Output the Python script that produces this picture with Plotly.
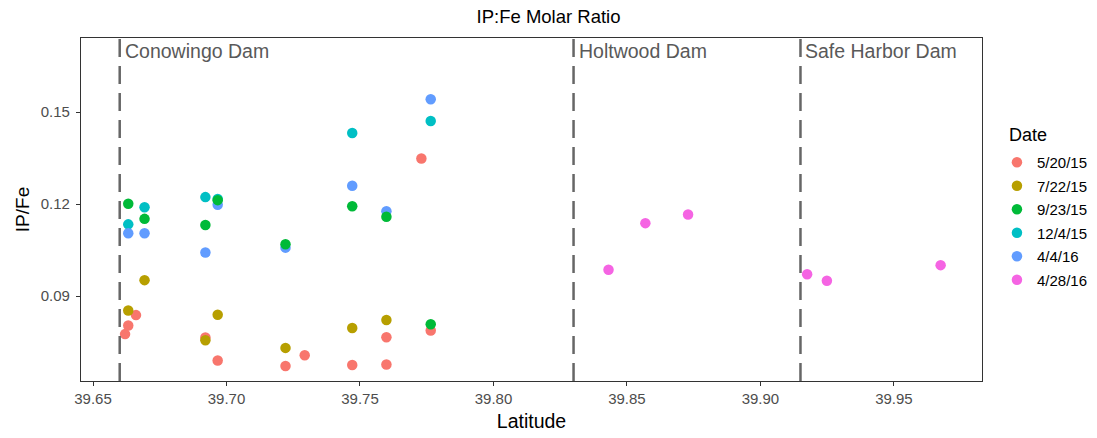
import plotly.graph_objects as go

# Sampling dates (legend order) and their hue colours
dates = ["5/20/15", "7/22/15", "9/23/15", "12/4/15", "4/4/16", "4/28/16"]
colors = ["#F8766D", "#B79F00", "#00BA38", "#00BFC4", "#619CFF", "#F564E3"]

# Latitude / IP:Fe molar ratio for each sampling date
lat_0520 = [39.6620, 39.6632, 39.6661, 39.6921, 39.6967, 39.7221, 39.7293, 39.7471, 39.7599, 39.7599, 39.7730, 39.7765]
ipfe_0520 = [0.0776, 0.0804, 0.0838, 0.0765, 0.0690, 0.0672, 0.0707, 0.0675, 0.0766, 0.0677, 0.1349, 0.0788]

lat_0722 = [39.6632, 39.6693, 39.6921, 39.6967, 39.7221, 39.7471, 39.7599]
ipfe_0722 = [0.0853, 0.0952, 0.0756, 0.0839, 0.0731, 0.0796, 0.0822]

lat_0923 = [39.6632, 39.6693, 39.6921, 39.6967, 39.7221, 39.7471, 39.7599, 39.7765]
ipfe_0923 = [0.1201, 0.1152, 0.1132, 0.1213, 0.1069, 0.1193, 0.1159, 0.0808]

lat_1204 = [39.6632, 39.6693, 39.6921, 39.6967, 39.7471, 39.7765]
ipfe_1204 = [0.1134, 0.1190, 0.1223, 0.1217, 0.1432, 0.1471]

lat_0404 = [39.6632, 39.6693, 39.6921, 39.6967, 39.7221, 39.7471, 39.7599, 39.7765]
ipfe_0404 = [0.1105, 0.1105, 0.1042, 0.1198, 0.1058, 0.1260, 0.1177, 0.1542]

lat_0428 = [39.8431, 39.8569, 39.8729, 39.9175, 39.9249, 39.9675]
ipfe_0428 = [0.0986, 0.1138, 0.1166, 0.0971, 0.0950, 0.1001]

# Dam locations marked with dashed lines
dam_names = ["Conowingo Dam", "Holtwood Dam", "Safe Harbor Dam"]
dam_lat = [39.66, 39.83, 39.915]

x_ticks = [39.65, 39.70, 39.75, 39.80, 39.85, 39.90, 39.95]
y_ticks = [0.09, 0.12, 0.15]

series = [
    (lat_0520, ipfe_0520),
    (lat_0722, ipfe_0722),
    (lat_0923, ipfe_0923),
    (lat_1204, ipfe_1204),
    (lat_0404, ipfe_0404),
    (lat_0428, ipfe_0428),
]
# drawing order (later ones on top); legend order kept via legendrank
draw_order = [0, 1, 3, 4, 2, 5]

FONT = "Liberation Sans, Arial, Helvetica, sans-serif"

fig = go.Figure()
for i in draw_order:
    xs, ys = series[i]
    fig.add_trace(go.Scatter(
        x=xs, y=ys, mode="markers", name=dates[i],
        legendgroup=dates[i], legendrank=i + 1,
        marker=dict(color=colors[i], size=10.5, line=dict(width=0)),
    ))

for name, lat in zip(dam_names, dam_lat):
    fig.add_shape(type="line", xref="x", yref="paper", x0=lat, x1=lat, y0=0, y1=1,
                  line=dict(color="#666666", width=2.5, dash="18px,9px"), layer="above")
    fig.add_annotation(x=lat, y=0.17, xref="x", yref="y", text=name, showarrow=False,
                       xanchor="left", yanchor="middle", xshift=3,
                       font=dict(family=FONT, size=19.5, color="#595959"))

# legend heading
fig.add_annotation(x=1.0277, y=0.716, xref="paper", yref="paper", text="Date",
                   showarrow=False, xanchor="left", yanchor="middle",
                   font=dict(family=FONT, size=18, color="#000000"))

axis_common = dict(
    showline=True, mirror=True, linecolor="#333333", linewidth=1.2,
    ticks="outside", ticklen=4, tickcolor="#333333", tickwidth=1,
    showgrid=False, zeroline=False,
    tickfont=dict(family=FONT, size=15, color="#4D4D4D"),
)

fig.update_xaxes(range=[39.6455, 39.983], tickvals=x_ticks,
                 ticktext=[f"{v:.2f}" for v in x_ticks],
                 title=dict(text="Latitude", font=dict(family=FONT, size=19.5, color="#000000"), standoff=8),
                 **axis_common)
fig.update_yaxes(range=[0.0623, 0.1742], tickvals=y_ticks,
                 ticktext=[f"{v:.2f}" for v in y_ticks],
                 ticklabelstandoff=3,
                 title=dict(text="IP/Fe", font=dict(family=FONT, size=19, color="#000000"), standoff=6),
                 **axis_common)

fig.update_layout(
    width=1097, height=438,
    margin=dict(l=81, r=115, t=38, b=57, autoexpand=False),
    plot_bgcolor="white", paper_bgcolor="white",
    title=dict(text="IP:Fe Molar Ratio", x=0.5, xref="container", xanchor="center",
               y=1 - 17 / 438, yref="container", yanchor="middle",
               font=dict(family=FONT, size=18.5, color="#000000")),
    legend=dict(x=1.0166, xanchor="left", y=0.685, yanchor="top",
                font=dict(family=FONT, size=15, color="#000000"),
                tracegroupgap=1, itemwidth=30, bgcolor="rgba(0,0,0,0)"),
    showlegend=True,
)

fig.write_html("out.html")
